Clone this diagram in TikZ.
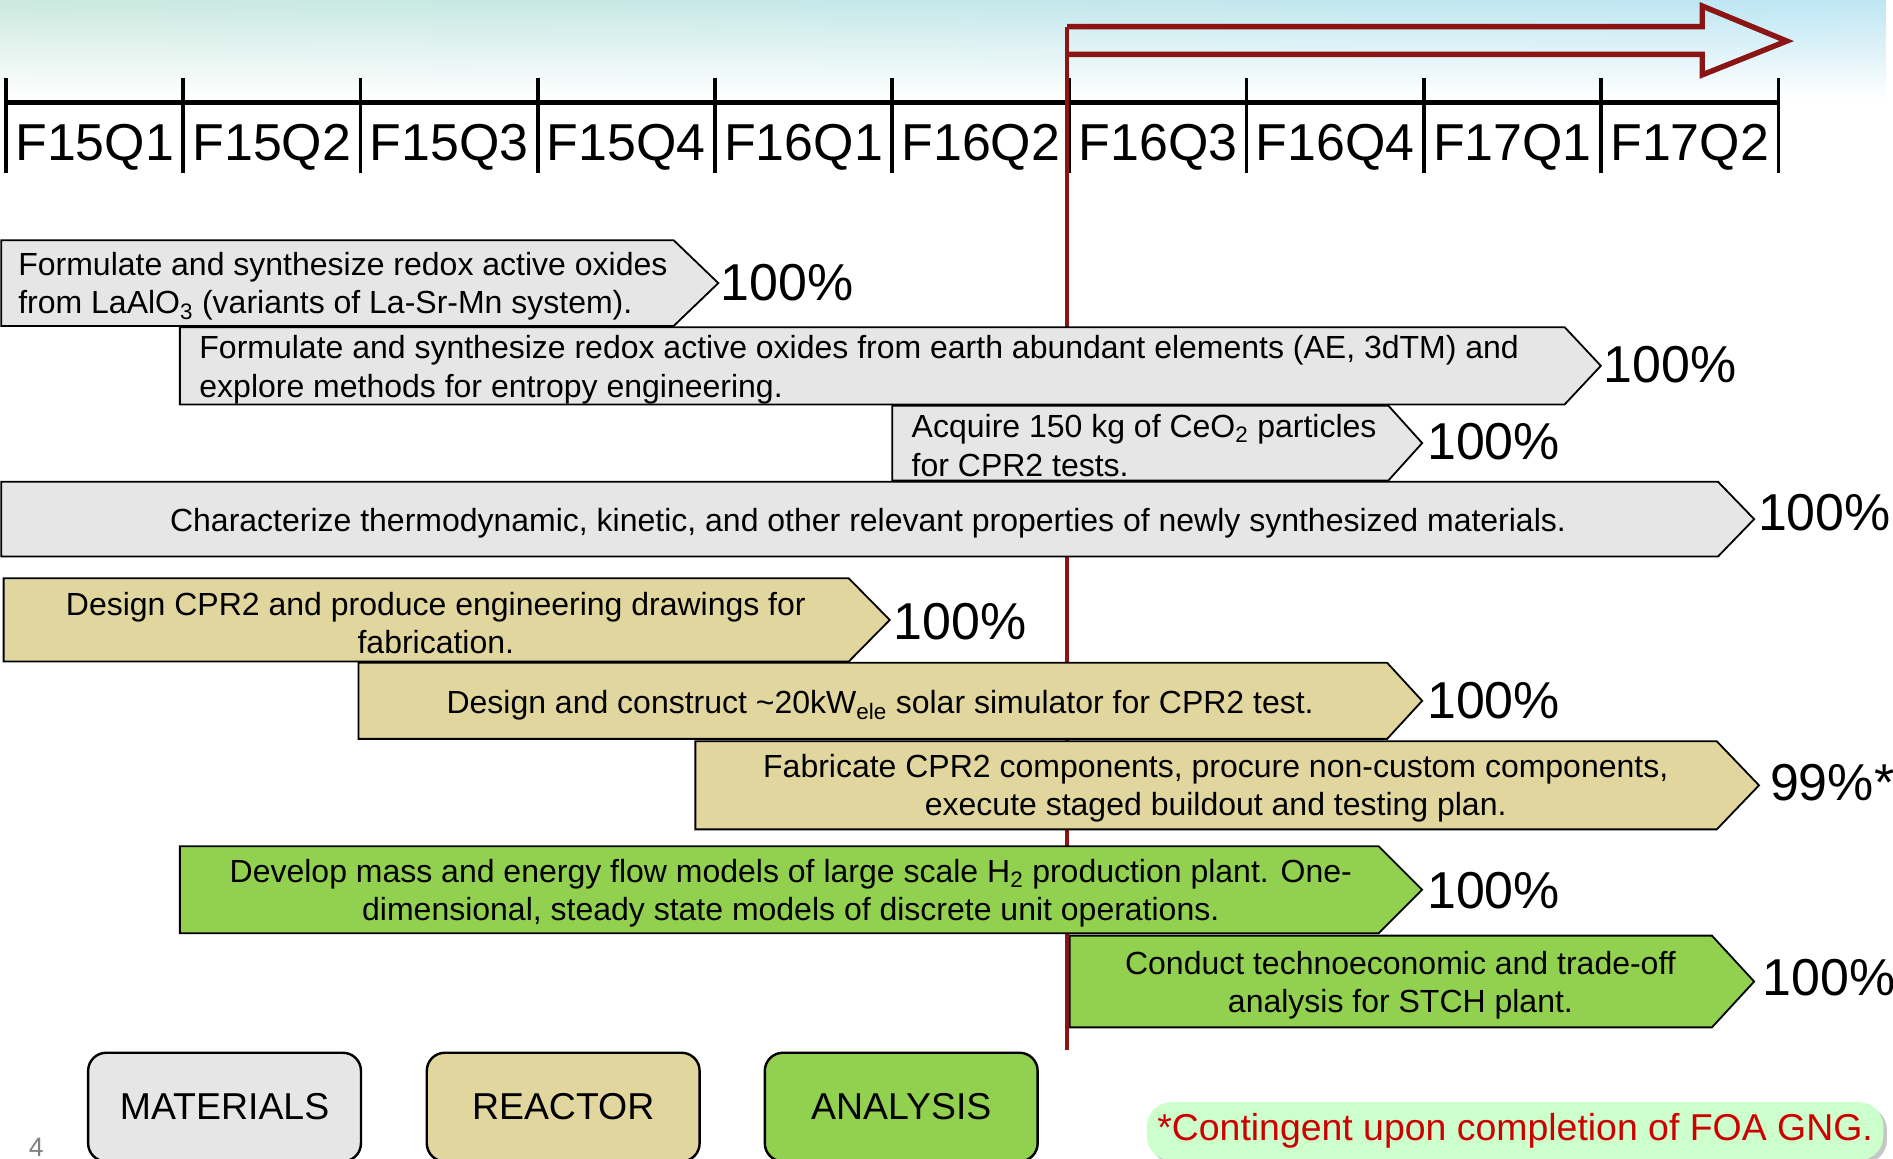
\documentclass[tikz,border=0pt]{standalone}
\usepackage{fontspec}
\setmainfont{Liberation Sans}
\usepackage{tikz}
\usetikzlibrary{fadings, shadows}
\definecolor{matgray}{HTML}{E6E6E6}
\definecolor{reactan}{HTML}{E0D69E}
\definecolor{anagreen}{HTML}{92D050}
\definecolor{nowred}{HTML}{8B1414}
\definecolor{notebg}{HTML}{CCFFCC}
\definecolor{notered}{HTML}{CC0000}
\definecolor{skygreen}{HTML}{D2EBD2}
\definecolor{skyblue}{HTML}{BDE6F4}
\pgfdeclarehorizontalshading{sky}{100bp}{color(0bp)=(skygreen); color(73bp)=(skyblue); color(100bp)=(skygreen)}

\begin{document}
\begin{tikzpicture}[x=1pt, y=-1pt,
    task/.style={draw=black, line width=1.5pt, line join=miter},
    tasktext/.style={inner sep=0pt, font=\fontsize{26.5}{32}\selectfont},
    pct/.style={inner sep=0pt, anchor=west, font=\fontsize{43}{48}\selectfont},
    quarter/.style={inner sep=0pt, anchor=base, font=\fontsize{43}{48}\selectfont},
    legend/.style={draw=black, line width=2pt, rounded corners=15pt, minimum width=226pt, minimum height=90pt, font=\fontsize{31}{35}\selectfont}]
    \useasboundingbox (0,0) rectangle (1568,960);

    % sky at the top
    \shade[shading=sky, path fading=south] (0,0) rectangle (1568,82);

    % time line
    \draw[line width=4pt] (5,85) -- (1473,85);
    \foreach \i in {0,...,10}
        \draw[line width=3pt] ({5+146.8*\i},65) -- ({5+146.8*\i},143);
    \foreach \lab [count=\i from 0] in {F15Q1,F15Q2,F15Q3,F15Q4,F16Q1,F16Q2,F16Q3,F16Q4,F17Q1,F17Q2}
        \node[quarter] (q\i) at ({5+146.8*(\i+0.5)},133) {\lab};

    % today
    \draw[nowred, line width=3pt] (884,22) -- (884,870);
    \draw[nowred, line width=4.5pt, line join=miter] (884,22) -- (1410,22) -- (1410,5) -- (1480,34) -- (1410,62) -- (1410,45) -- (884,45);

    % materials
    \draw[task, fill=matgray] (1,199) -- (558,199) -- (595,234.5) -- (558,270) -- (1,270) -- cycle;
    \node[tasktext, anchor=west, align=left] (m1) at (15,237) {Formulate and synthesize redox active oxides\\from LaAlO\textsubscript{3} (variants of La-Sr-Mn system).};
    \node[pct] (p1) at (597,234) {100\%};

    \draw[task, fill=matgray] (149,271) -- (1296,271) -- (1326,303) -- (1296,335) -- (149,335) -- cycle;
    \node[tasktext, anchor=west, align=left] (m2) at (165,306) {Formulate and synthesize redox active oxides from earth abundant elements (AE, 3dTM) and\\explore methods for entropy engineering.};
    \node[pct] (p2) at (1328,302) {100\%};

    \draw[task, fill=matgray] (739,336) -- (1150,336) -- (1178,367) -- (1150,398) -- (739,398) -- cycle;
    \node[tasktext, anchor=west, align=left] (m3) at (755,369) {Acquire 150 kg of CeO\textsubscript{2} particles\\for CPR2 tests.};
    \node[pct] (p3) at (1182,366) {100\%};

    \draw[task, fill=matgray] (1,399) -- (1423,399) -- (1453,430) -- (1423,461) -- (1,461) -- cycle;
    \node[tasktext] (m4) at (719,433) {Characterize thermodynamic, kinetic, and other relevant properties of newly synthesized materials.};
    \node[pct] (p4) at (1456,425) {100\%};

    % reactor
    \draw[task, fill=reactan] (3,479) -- (703,479) -- (737,513.5) -- (703,548) -- (3,548) -- cycle;
    \node[tasktext, align=center] (r1) at (361,516) {Design CPR2 and produce engineering drawings for\\fabrication.};
    \node[pct] (p5) at (740,515) {100\%};

    \draw[task, fill=reactan] (297,549) -- (1149,549) -- (1178,580.5) -- (1149,612) -- (297,612) -- cycle;
    \node[tasktext] (r2) at (729,584) {Design and construct \textasciitilde20kW\textsubscript{ele} solar simulator for CPR2 test.};
    \node[pct] (p6) at (1182,580) {100\%};

    \draw[task, fill=reactan] (576,614) -- (1422,614) -- (1457,650.5) -- (1422,687) -- (576,687) -- cycle;
    \node[tasktext, align=center] (r3) at (1007,653) {Fabricate CPR2 components, procure non-custom components,\\execute staged buildout and testing plan.};
    \node[pct] (p7) at (1466,648) {99\%*};

    % analysis
    \draw[task, fill=anagreen] (149,701) -- (1142,701) -- (1178,737) -- (1142,773) -- (149,773) -- cycle;
    \node[tasktext, align=center] (a1) at (655,740) {Develop mass and energy flow models of large scale H\textsubscript{2} production plant. One-\\dimensional, steady state models of discrete unit operations.};
    \node[pct] (p8) at (1182,738) {100\%};

    \draw[task, fill=anagreen] (886,775) -- (1418,775) -- (1453,813) -- (1418,851) -- (886,851) -- cycle;
    \node[tasktext, align=center] (a2) at (1160,816) {Conduct technoeconomic and trade-off\\analysis for STCH plant.};
    \node[pct] (p9) at (1460,810) {100\%};

    % legend
    \node[legend, fill=matgray] (mat) at (186,917) {MATERIALS};
    \node[legend, fill=reactan] (rea) at (466.5,917) {REACTOR};
    \node[legend, fill=anagreen] (ana) at (746.5,917) {ANALYSIS};
    \node[text=gray, font=\fontsize{22}{24}\selectfont] (pg) at (30,950) {4};

    \node[fill=notebg, rounded corners=20pt, minimum width=610pt, minimum height=48pt, drop shadow={opacity=0.45, shadow xshift=3pt, shadow yshift=-3pt}, text=notered, font=\fontsize{31}{35}\selectfont] (note) at (1255,937) {*Contingent upon completion of FOA GNG.};
\end{tikzpicture}
\end{document}
